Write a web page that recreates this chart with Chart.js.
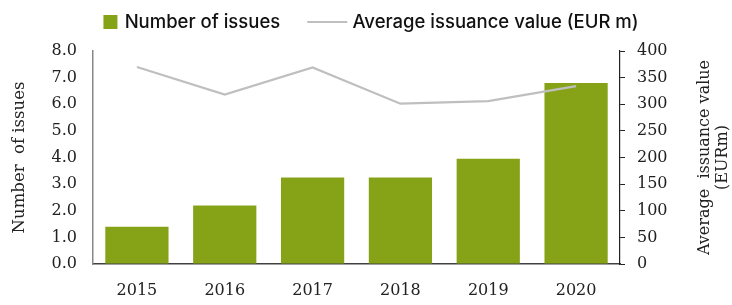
<!DOCTYPE html>
<html><head><meta charset="utf-8">
<script src="https://cdn.jsdelivr.net/npm/chart.js@4.4.1/dist/chart.umd.min.js"></script>
<style>html,body{margin:0;padding:0;background:#fff}#wrap{width:732px;height:305px;position:relative}</style>
</head><body><div id="wrap"><canvas id="c"></canvas></div>
<script>
const categories = ['2015', '2016', '2017', '2018', '2019', '2020'];
const numberOfIssues = [1.4, 2.2, 3.25, 3.25, 3.95, 6.8];
const avgIssuanceValue = [370, 318, 369, 301, 306, 334];
const leftTickMax = 8, leftTickStep = 1;
const rightTickMax = 400, rightTickStep = 50;
const seriesNames = ['Number of issues', 'Average issuance value (EUR m)'];
const leftTitle = 'Number  of issues';
const rightTitle = ['Average  issuance value', '(EURm)'];

const GREEN = '#86A318';
const GREY = '#BFBFBF';
const SERIF = '"DejaVu Serif", serif';
const BOXW = 54;

// legend symbols: wide transparent canvases, symbol placed near the text
function makeSquare() {
  const c = document.createElement('canvas');
  c.width = BOXW * 2; c.height = 14;
  const x = c.getContext('2d');
  x.fillStyle = GREEN; x.fillRect(69, 0, 14, 14);
  return c;
}
function makeLine() {
  const c = document.createElement('canvas');
  c.width = BOXW * 2; c.height = 2;
  const x = c.getContext('2d');
  x.fillStyle = GREY; x.fillRect(45, 0, 40, 2);
  return c;
}
const sq = makeSquare(), ln = makeLine();

const legendShiftPlugin = {
  id: 'legendShift',
  afterLayout(chart) {
    const lg = chart.legend;
    if (!lg) return;
    lg.top -= 9.5; lg.bottom -= 9.5;
    lg.left -= 16; lg.right -= 16;
  }
};

const rightTitlePlugin = {
  id: 'rightTitle',
  afterDraw(chart) {
    const ctx = chart.ctx;
    const area = chart.chartArea;
    const cy = (area.top + area.bottom) / 2;
    ctx.save();
    ctx.fillStyle = '#222';
    ctx.font = '16px ' + SERIF;
    ctx.textAlign = 'center';
    ctx.textBaseline = 'middle';
    ctx.translate(705, cy);
    ctx.rotate(-Math.PI / 2);
    ctx.fillText(rightTitle[0], 0, 0);
    ctx.fillText(rightTitle[1], 0, 18);
    ctx.restore();
  }
};

new Chart(document.getElementById('c'), {
  data: {
    labels: categories,
    datasets: [
      {
        type: 'bar', label: seriesNames[0], data: numberOfIssues,
        backgroundColor: GREEN, yAxisID: 'y', order: 2,
        barPercentage: 0.72, categoryPercentage: 1.0
      },
      {
        type: 'line', label: seriesNames[1], data: avgIssuanceValue,
        borderColor: GREY, backgroundColor: GREY, borderWidth: 2.2,
        pointRadius: 0, tension: 0, yAxisID: 'y1', order: 1
      }
    ]
  },
  options: {
    responsive: true, maintainAspectRatio: false, animation: false,
    layout: { padding: { top: 0, left: 0, right: 0, bottom: 0 } },
    plugins: {
      tooltip: { enabled: false },
      legend: {
        position: 'top', align: 'center',
        labels: {
          usePointStyle: true, pointStyleWidth: BOXW,
          color: '#111', padding: 9,
          font: { family: 'Inter, "Liberation Sans", sans-serif', size: 18.5, weight: '500' },
          sort: (a, b) => a.datasetIndex - b.datasetIndex,
          generateLabels(chart) {
            const items = Chart.defaults.plugins.legend.labels.generateLabels(chart);
            items.forEach(it => { it.pointStyle = it.datasetIndex === 0 ? sq : ln; });
            return items;
          }
        }
      }
    },
    scales: {
      x: {
        grid: { display: false, drawTicks: false },
        border: { color: '#404040', width: 1.5 },
        ticks: { color: '#222', font: { family: SERIF, size: 16 }, padding: 17 },
        afterFit(s) { s.height = 41; }
      },
      y: {
        position: 'left', min: 0, max: leftTickMax,
        grid: { drawOnChartArea: false, drawTicks: false },
        border: { color: '#888', width: 1.5 },
        ticks: { stepSize: leftTickStep, color: '#222', font: { family: SERIF, size: 16 }, padding: 16,
                 callback: v => Number(v).toFixed(1) },
        title: { display: true, text: leftTitle, color: '#222', font: { family: SERIF, size: 16.5 }, padding: { top: 10, bottom: 0 } },
        afterFit(s) { s.width = 93; s.paddingTop = 51; }
      },
      y1: {
        position: 'right', min: 0, max: rightTickMax,
        grid: { drawOnChartArea: false, drawTicks: true, tickLength: 5, color: '#222' },
        border: { color: '#222', width: 1.2 },
        ticks: { stepSize: rightTickStep, color: '#222', font: { family: SERIF, size: 16 }, padding: 12 },
        afterFit(s) { s.width = 112; }
      }
    }
  },
  plugins: [legendShiftPlugin, rightTitlePlugin]
});
</script>
</body></html>
